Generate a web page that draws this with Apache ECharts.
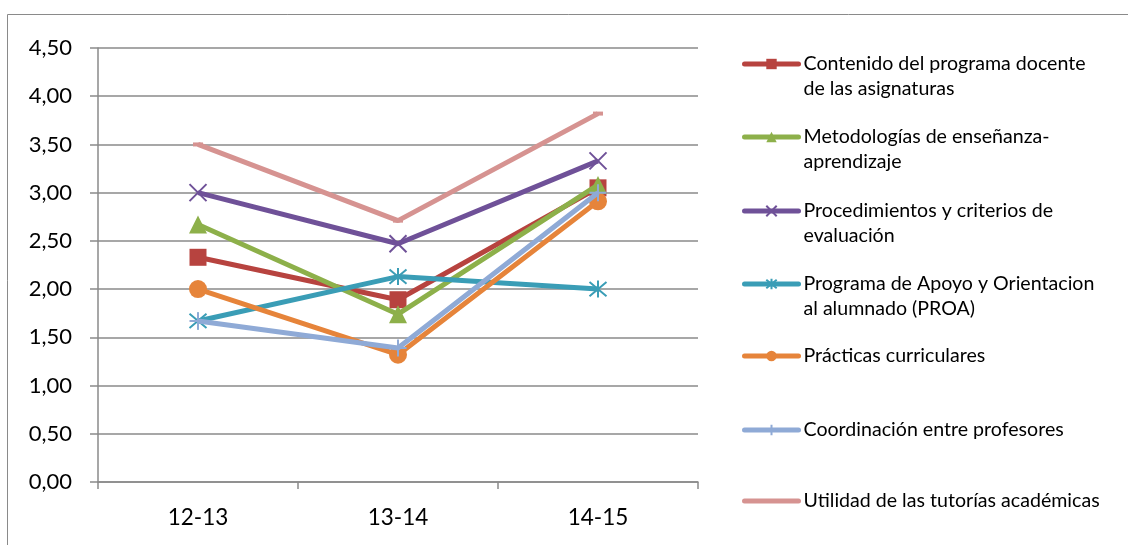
<!DOCTYPE html>
<html>
<head>
<meta charset="utf-8">
<script src="https://cdn.jsdelivr.net/npm/echarts@6/dist/echarts.min.js"></script>
<style>
html,body{margin:0;padding:0;background:#fff;}
#chart{width:1128px;height:545px;}
</style>
</head>
<body>
<div id="chart"></div>
<script>
const categories = ['12-13', '13-14', '14-15'];
const yTicks = [0, 0.5, 1, 1.5, 2, 2.5, 3, 3.5, 4, 4.5];

const contenido      = [2.33, 1.89, 3.05];
const metodologias   = [2.67, 1.74, 3.08];
const procedimientos = [3.00, 2.47, 3.33];
const proa           = [1.67, 2.13, 2.00];
const practicas      = [2.00, 1.32, 2.91];
const coordinacion   = [1.67, 1.39, 3.00];
const tutorias       = [3.50, 2.71, 3.82];

const seriesNames = [
  'Contenido del programa docente\nde las asignaturas',
  'Metodologías de enseñanza-\naprendizaje',
  'Procedimientos y criterios de\nevaluación',
  'Programa de Apoyo y Orientacion\nal alumnado (PROA)',
  'Prácticas curriculares',
  'Coordinación entre profesores',
  'Utilidad de las tutorías académicas'
];
const seriesData = [contenido, metodologias, procedimientos, proa, practicas, coordinacion, tutorias];
const colors = ['#B7433F', '#8DB04A', '#6F5198', '#3A9DB6', '#E6843A', '#8FAAD6', '#D69391'];
const legendCenters = [64, 137, 211, 284, 356, 430, 501];

const FONT = 'Lato';
const xPath = 'path://M0,0L10,10M10,0L0,10';
const starPath = 'path://M0,0L10,10M10,0L0,10M5,-1L5,11';
const plusPath = 'path://M5,0L5,10M0,5L10,5';

const symbols = [
  {symbol: 'rect', size: 17, stroke: false},
  {symbol: 'triangle', size: 18, stroke: false},
  {symbol: xPath, size: 17, stroke: true},
  {symbol: starPath, size: 17, stroke: true},
  {symbol: 'circle', size: 18, stroke: false},
  {symbol: plusPath, size: 17, stroke: true},
  {symbol: 'rect', size: [10, 4], stroke: false}
];

const series = seriesNames.map((name, i) => ({
  name: name,
  type: 'line',
  data: seriesData[i],
  color: colors[i],
  symbol: symbols[i].symbol,
  symbolSize: symbols[i].size,
  showAllSymbol: true,
  lineStyle: {width: 5, color: colors[i]},
  itemStyle: symbols[i].stroke
    ? {color: colors[i], borderColor: colors[i], borderWidth: 2}
    : {color: colors[i]},
  emphasis: {disabled: true},
  animation: false,
  z: 2 + i
}));

const legends = seriesNames.map((name, i) => {
  const twoLine = name.indexOf('\n') >= 0;
  const item = {name: name};
  if (i === 6) item.itemStyle = {opacity: 0};
  return {
    orient: 'vertical',
    left: 742,
    top: twoLine ? legendCenters[i] - 37.5 : legendCenters[i] - 12.5,
    padding: 0,
    itemWidth: 54,
    itemHeight: 13,
    itemGap: 0,
    data: [item],
    lineStyle: {width: 5, cap: 'round'},
    formatter: n => (n.indexOf('\n') >= 0 ? '\u00a0\n' + n : n),
    textStyle: {fontFamily: FONT, fontSize: 19.6, color: '#000', lineHeight: 25},
    selectedMode: false
  };
});

const chart = echarts.init(document.getElementById('chart'), null, {renderer: 'canvas'});
chart.setOption({
  backgroundColor: '#fff',
  animation: false,
  graphic: [{
    type: 'rect',
    shape: {x: 7.5, y: 14.5, width: 1200, height: 600},
    style: {fill: 'none', stroke: '#8a8a8a', lineWidth: 1},
    silent: true
  }],
  grid: {left: 98, right: 430, top: 48, bottom: 63, containLabel: false},
  legend: legends,
  xAxis: {
    type: 'category',
    data: categories,
    boundaryGap: true,
    axisLine: {lineStyle: {color: '#8a8a8a', width: 1.5}},
    axisTick: {show: true, length: 7, lineStyle: {color: '#8a8a8a', width: 1.5}},
    axisLabel: {fontFamily: FONT, fontSize: 22.5, color: '#000', margin: 24}
  },
  yAxis: {
    type: 'value',
    min: 0,
    max: 4.5,
    interval: 0.5,
    axisLine: {show: true, lineStyle: {color: '#8a8a8a', width: 1.5}},
    axisTick: {show: true, length: 8, lineStyle: {color: '#8a8a8a', width: 1.5}},
    splitLine: {show: true, lineStyle: {color: '#8a8a8a', width: 1.5}},
    axisLabel: {
      fontFamily: FONT, fontSize: 22, color: '#000', margin: 26,
      formatter: v => yTicks.includes(v) ? v.toFixed(2).replace('.', ',') : ''
    }
  },
  series: series
});
</script>
</body>
</html>
